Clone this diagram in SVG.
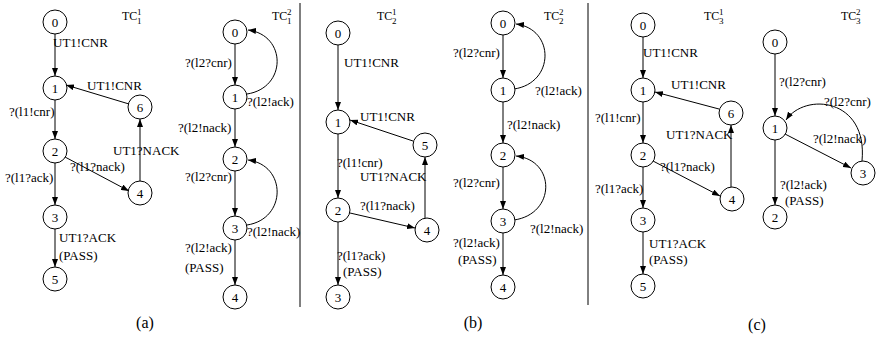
<svg xmlns="http://www.w3.org/2000/svg" width="877" height="340" viewBox="0 0 877 340">
<style>
.n circle{fill:#fff;stroke:#000;stroke-width:1}
.n text{font-family:"Liberation Serif","Times New Roman",serif;font-size:13px;text-anchor:middle;fill:#000}
.lbl{font-family:"Liberation Serif","Times New Roman",serif;font-size:13px;fill:#000}
.tc{font-family:"Liberation Serif","Times New Roman",serif;font-size:12px;fill:#000}
.tc .s{font-size:9px}
.cap{font-family:"Liberation Serif","Times New Roman",serif;font-size:16px;text-anchor:middle;fill:#000}
.e line,.e path{stroke:#000;stroke-width:1;fill:none;marker-end:url(#ah)}
.div{stroke:#000;stroke-width:1}
</style>
<defs>
<marker id="ah" viewBox="0 0 8 6" refX="8" refY="3" markerWidth="8" markerHeight="6" markerUnits="userSpaceOnUse" orient="auto">
<path d="M0,0 L8,3 L0,6 z" fill="#000"/>
</marker>
</defs>
<rect width="877" height="340" fill="#fff"/>
<line class="div" x1="300" y1="3" x2="300" y2="307"/>
<line class="div" x1="588" y1="3" x2="588" y2="305"/>

<g id="connectors" class="e">
<!-- TC11 -->
<line x1="55" y1="34" x2="55" y2="76"/>
<line x1="55" y1="100" x2="55" y2="139"/>
<line x1="55" y1="163" x2="55" y2="205"/>
<line x1="55" y1="229" x2="55" y2="267"/>
<line x1="65" y1="157" x2="129" y2="191"/>
<line x1="140" y1="181" x2="140" y2="119"/>
<line x1="129" y1="104" x2="66" y2="85"/>
<!-- TC12 -->
<line x1="235" y1="44" x2="235" y2="85"/>
<line x1="235" y1="109" x2="235" y2="147"/>
<line x1="235" y1="171" x2="235" y2="216"/>
<line x1="235" y1="240" x2="235" y2="285"/>
<path d="M247,94 C287,88 287,35 248,30"/>
<path d="M247,225 C287,219 287,165 248,160"/>
<!-- TC21 -->
<line x1="338" y1="45" x2="338" y2="110"/>
<line x1="338" y1="134" x2="338" y2="198"/>
<line x1="338" y1="222" x2="338" y2="285"/>
<line x1="350" y1="213" x2="415" y2="228"/>
<line x1="425" y1="218" x2="425" y2="157"/>
<line x1="413" y1="141" x2="350" y2="120"/>
<!-- TC22 -->
<line x1="503" y1="35" x2="503" y2="78"/>
<line x1="503" y1="102" x2="503" y2="143"/>
<line x1="503" y1="167" x2="503" y2="209"/>
<line x1="503" y1="233" x2="503" y2="275"/>
<path d="M514,89 C555,83 555,29 516,24"/>
<path d="M514,220 C556,214 556,160 516,156"/>
<!-- TC31 -->
<line x1="643" y1="37" x2="643" y2="78"/>
<line x1="643" y1="102" x2="643" y2="143"/>
<line x1="643" y1="167" x2="643" y2="208"/>
<line x1="643" y1="232" x2="643" y2="274"/>
<line x1="653" y1="161" x2="720" y2="196"/>
<line x1="731" y1="187" x2="731" y2="125"/>
<line x1="719" y1="109" x2="655" y2="92"/>
<!-- TC32 -->
<line x1="775" y1="54" x2="775" y2="116"/>
<line x1="775" y1="140" x2="775" y2="205"/>
<line x1="785" y1="134" x2="851" y2="168"/>
<path d="M862,161 C868,98 805,92 786,120"/>
</g>

<!-- TC11 nodes -->
<g id="a1n0" class="n"><circle cx="55" cy="22" r="12"/><text x="55" y="26.5">0</text></g>
<g id="a1n1" class="n"><circle cx="55" cy="88" r="12"/><text x="55" y="92.5">1</text></g>
<g id="a1n6" class="n"><circle cx="140" cy="107" r="12"/><text x="140" y="111.5">6</text></g>
<g id="a1n2" class="n"><circle cx="55" cy="151" r="12"/><text x="55" y="155.5">2</text></g>
<g id="a1n4" class="n"><circle cx="140" cy="193" r="12"/><text x="140" y="197.5">4</text></g>
<g id="a1n3" class="n"><circle cx="55" cy="217" r="12"/><text x="55" y="221.5">3</text></g>
<g id="a1n5" class="n"><circle cx="55" cy="279" r="12"/><text x="55" y="283.5">5</text></g>
<!-- TC12 nodes -->
<g id="a2n0" class="n"><circle cx="235" cy="32" r="12"/><text x="235" y="36.5">0</text></g>
<g id="a2n1" class="n"><circle cx="235" cy="97" r="12"/><text x="235" y="101.5">1</text></g>
<g id="a2n2" class="n"><circle cx="235" cy="159" r="12"/><text x="235" y="163.5">2</text></g>
<g id="a2n3" class="n"><circle cx="235" cy="228" r="12"/><text x="235" y="232.5">3</text></g>
<g id="a2n4" class="n"><circle cx="235" cy="297" r="12"/><text x="235" y="301.5">4</text></g>
<!-- TC21 nodes -->
<g id="b1n0" class="n"><circle cx="338" cy="33" r="12"/><text x="338" y="37.5">0</text></g>
<g id="b1n1" class="n"><circle cx="338" cy="122" r="12"/><text x="338" y="126.5">1</text></g>
<g id="b1n5" class="n"><circle cx="425" cy="145" r="12"/><text x="425" y="149.5">5</text></g>
<g id="b1n2" class="n"><circle cx="338" cy="210" r="12"/><text x="338" y="214.5">2</text></g>
<g id="b1n4" class="n"><circle cx="427" cy="230" r="12"/><text x="427" y="234.5">4</text></g>
<g id="b1n3" class="n"><circle cx="338" cy="297" r="12"/><text x="338" y="301.5">3</text></g>
<!-- TC22 nodes -->
<g id="b2n0" class="n"><circle cx="503" cy="23" r="12"/><text x="503" y="27.5">0</text></g>
<g id="b2n1" class="n"><circle cx="503" cy="90" r="12"/><text x="503" y="94.5">1</text></g>
<g id="b2n2" class="n"><circle cx="503" cy="155" r="12"/><text x="503" y="159.5">2</text></g>
<g id="b2n3" class="n"><circle cx="503" cy="221" r="12"/><text x="503" y="225.5">3</text></g>
<g id="b2n4" class="n"><circle cx="503" cy="287" r="12"/><text x="503" y="291.5">4</text></g>
<!-- TC31 nodes -->
<g id="c1n0" class="n"><circle cx="643" cy="25" r="12"/><text x="643" y="29.5">0</text></g>
<g id="c1n1" class="n"><circle cx="643" cy="90" r="12"/><text x="643" y="94.5">1</text></g>
<g id="c1n6" class="n"><circle cx="731" cy="113" r="12"/><text x="731" y="117.5">6</text></g>
<g id="c1n2" class="n"><circle cx="643" cy="155" r="12"/><text x="643" y="159.5">2</text></g>
<g id="c1n4" class="n"><circle cx="732" cy="199" r="12"/><text x="732" y="203.5">4</text></g>
<g id="c1n3" class="n"><circle cx="643" cy="220" r="12"/><text x="643" y="224.5">3</text></g>
<g id="c1n5" class="n"><circle cx="643" cy="286" r="12"/><text x="643" y="290.5">5</text></g>
<!-- TC32 nodes -->
<g id="c2n0" class="n"><circle cx="775" cy="42" r="12"/><text x="775" y="46.5">0</text></g>
<g id="c2n1" class="n"><circle cx="775" cy="128" r="12"/><text x="775" y="132.5">1</text></g>
<g id="c2n3" class="n"><circle cx="863" cy="173" r="12"/><text x="863" y="177.5">3</text></g>
<g id="c2n2" class="n"><circle cx="775" cy="217" r="12"/><text x="775" y="221.5">2</text></g>

<g id="labels" class="lbl">
<text x="53" y="47">UT1!CNR</text>
<text x="87" y="90">UT1!CNR</text>
<text x="9" y="116">?(l1!cnr)</text>
<text x="113" y="155">UT1?NACK</text>
<text x="70" y="171">?(l1?nack)</text>
<text x="5" y="182">?(l1?ack)</text>
<text x="59" y="242">UT1?ACK</text>
<text x="59" y="260">(PASS)</text>

<text x="185" y="67">?(l2?cnr)</text>
<text x="247" y="106">?(l2!ack)</text>
<text x="178" y="132">?(l2!nack)</text>
<text x="185" y="181">?(l2?cnr)</text>
<text x="247" y="236">?(l2!nack)</text>
<text x="185" y="252">?(l2!ack)</text>
<text x="185" y="272">(PASS)</text>

<text x="344" y="67">UT1!CNR</text>
<text x="360" y="121">UT1!CNR</text>
<text x="337" y="167">?(l1!cnr)</text>
<text x="360" y="181">UT1?NACK</text>
<text x="360" y="210">?(l1?nack)</text>
<text x="337" y="260">?(l1?ack)</text>
<text x="343" y="276">(PASS)</text>

<text x="453" y="57">?(l2?cnr)</text>
<text x="535" y="95">?(l2!ack)</text>
<text x="507" y="129">?(l2!nack)</text>
<text x="453" y="187">?(l2?cnr)</text>
<text x="530" y="233">?(l2!nack)</text>
<text x="453" y="247">?(l2!ack)</text>
<text x="458" y="264">(PASS)</text>

<text x="643" y="57">UT1!CNR</text>
<text x="671" y="89">UT1!CNR</text>
<text x="595" y="122">?(l1!cnr)</text>
<text x="666" y="139">UT1?NACK</text>
<text x="660" y="171">?(l1?nack)</text>
<text x="595" y="193">?(l1?ack)</text>
<text x="649" y="248">UT1?ACK</text>
<text x="649" y="264">(PASS)</text>

<text x="779" y="86">?(l2?cnr)</text>
<text x="824" y="106">?(l2?cnr)</text>
<text x="813" y="143">?(l2!nack)</text>
<text x="780" y="189">?(l2!ack)</text>
<text x="785" y="205">(PASS)</text>
</g>

<g id="titles" class="tc">
<text x="122" y="20">TC<tspan class="s" x="137" y="15">1</tspan><tspan class="s" x="137" y="24">1</tspan></text>
<text x="272" y="20">TC<tspan class="s" x="287" y="15">2</tspan><tspan class="s" x="287" y="24">1</tspan></text>
<text x="377" y="20">TC<tspan class="s" x="392" y="15">1</tspan><tspan class="s" x="392" y="24">2</tspan></text>
<text x="544" y="20">TC<tspan class="s" x="559" y="15">2</tspan><tspan class="s" x="559" y="24">2</tspan></text>
<text x="704" y="20">TC<tspan class="s" x="719" y="15">1</tspan><tspan class="s" x="719" y="24">3</tspan></text>
<text x="841" y="20">TC<tspan class="s" x="856" y="15">2</tspan><tspan class="s" x="856" y="24">3</tspan></text>
</g>

<g id="captions">
<text class="cap" x="145" y="328">(a)</text>
<text class="cap" x="473" y="328">(b)</text>
<text class="cap" x="757" y="330">(c)</text>
</g>
</svg>
